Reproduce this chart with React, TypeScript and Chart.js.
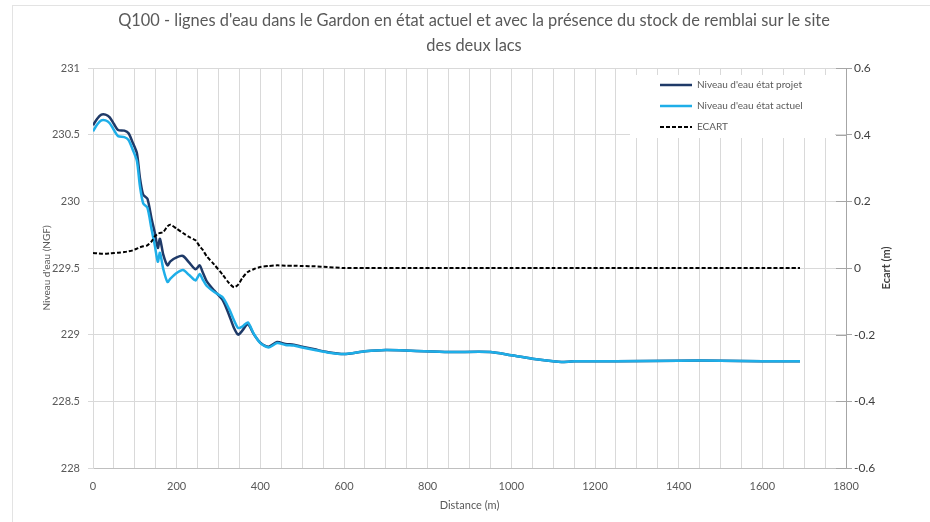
import React, { useEffect, useRef } from "react";
import { Chart, registerables } from "chart.js";

Chart.register(...registerables);

const TITLE_LINES = [
  "Q100 - lignes d'eau dans le Gardon en état actuel et avec la présence du stock de remblai sur le site",
  "des deux lacs",
];
const X_TITLE = "Distance (m)";
const Y_TITLE = "Niveau d'eau (NGF)";
const Y1_TITLE = "Ecart (m)";
const LEGEND_LABELS = ["Niveau d'eau état projet", "Niveau d'eau état actuel", "ECART"];

const distance = [
  0, 10, 20, 30, 40, 50, 60, 75, 85, 95, 105, 112, 120, 130, 140, 148, 155, 160, 168, 178,
  185, 200, 215, 230, 245, 255, 262, 272, 290, 310, 325, 337, 347, 357, 370, 385, 400, 420,
  440, 460, 480, 500, 530, 560, 600, 650, 700, 760, 850, 950, 1000, 1050, 1100, 1120, 1150,
  1250, 1400, 1500, 1600, 1690,
];

const niveauProjet = [
  230.57, 230.62, 230.65, 230.65, 230.63, 230.58, 230.535, 230.53, 230.51, 230.44, 230.36,
  230.18, 230.05, 230.02, 229.87, 229.76, 229.65, 229.72, 229.6, 229.52, 229.55, 229.58,
  229.59, 229.54, 229.49, 229.52, 229.47, 229.4, 229.33, 229.26, 229.15, 229.05, 229.0,
  229.03, 229.08, 229.0, 228.94, 228.91, 228.945, 228.93, 228.925, 228.91, 228.89, 228.87,
  228.855, 228.875, 228.885, 228.88, 228.87, 228.87, 228.845, 228.82, 228.8, 228.795, 228.8,
  228.8, 228.805, 228.805, 228.8, 228.8,
];

const niveauActuel = [
  230.525, 230.576, 230.607, 230.607, 230.586, 230.535, 230.489, 230.482, 230.46, 230.387,
  230.302, 230.118, 229.985, 229.952, 229.79, 229.665, 229.547, 229.615, 229.492, 229.395,
  229.42, 229.462, 229.485, 229.447, 229.407, 229.455, 229.415, 229.365, 229.32, 229.28,
  229.195, 229.108, 229.05, 229.06, 229.092, 229.003, 228.937, 228.904, 228.937, 228.923,
  228.918, 228.904, 228.885, 228.867, 228.855, 228.875, 228.885, 228.88, 228.87, 228.87,
  228.845, 228.82, 228.8, 228.795, 228.8, 228.8, 228.805, 228.805, 228.8, 228.8,
];

const ecart = [
  0.045, 0.044, 0.043, 0.043, 0.044, 0.045, 0.046, 0.048, 0.05, 0.053, 0.058, 0.062, 0.065,
  0.068, 0.08, 0.095, 0.103, 0.105, 0.108, 0.125, 0.13, 0.118, 0.105, 0.093, 0.083, 0.065,
  0.055, 0.035, 0.01, -0.02, -0.045, -0.058, -0.05, -0.03, -0.012, -0.003, 0.003, 0.006,
  0.008, 0.007, 0.007, 0.006, 0.005, 0.003, 0.0, 0.0, 0.0, 0.0, 0.0, 0.0, 0.0, 0.0, 0.0,
  0.0, 0.0, 0.0, 0.0, 0.0, 0.0, 0.0,
];

const X_MIN = 0;
const X_MAX = 1800;
const X_GRID_STEP = 50;
const X_LABEL_STEP = 200;
const Y_MIN = 228;
const Y_MAX = 231;
const Y_STEP = 0.5;
const Y1_MIN = -0.6;
const Y1_MAX = 0.6;
const Y1_STEP = 0.2;

const COLOR_PROJET = "#1f3a68";
const COLOR_ACTUEL = "#1eaee8";
const COLOR_ECART = "#000000";
const FONT = "Lato, 'Open Sans', sans-serif";

const decorPlugin = {
  id: "decor",
  beforeDraw(chart: any) {
    const { ctx, width, height } = chart;
    ctx.save();
    ctx.fillStyle = "#ffffff";
    ctx.fillRect(0, 0, width, height);
    ctx.strokeStyle = "#e3e3e3";
    ctx.lineWidth = 1;
    ctx.strokeRect(12.5, 5.5, width, height);
    ctx.restore();
  },
  afterDraw(chart: any) {
    const { ctx, chartArea } = chart;
    const { left, right, top, bottom } = chartArea;
    ctx.save();
    // Title
    ctx.fillStyle = "#595959";
    ctx.font = `16.4px ${FONT}`;
    ctx.textAlign = "center";
    ctx.textBaseline = "middle";
    ctx.fillText(TITLE_LINES[0], 474, 21);
    ctx.fillText(TITLE_LINES[1], 474, 46);

    // X title
    ctx.font = `11px ${FONT}`;
    ctx.fillText(X_TITLE, (left + right) / 2, 505);

    // Left y title
    ctx.save();
    ctx.translate(47, (top + bottom) / 2);
    ctx.rotate(-Math.PI / 2);
    ctx.font = `10px ${FONT}`;
    ctx.fillText(Y_TITLE, 0, 0);
    ctx.restore();

    // Right y title
    ctx.save();
    ctx.translate(886, (top + bottom) / 2);
    ctx.rotate(-Math.PI / 2);
    ctx.font = `bold 11px ${FONT}`;
    ctx.fillStyle = "#404040";
    ctx.fillText(Y1_TITLE, 0, 0);
    ctx.restore();

    // inward ticks on right axis
    const y1 = chart.scales.y1;
    ctx.strokeStyle = "#a6a6a6";
    ctx.lineWidth = 1;
    for (let v = Y1_MIN; v <= Y1_MAX + 1e-9; v += Y1_STEP) {
      const py = Math.round(y1.getPixelForValue(v)) + 0.5;
      ctx.beginPath();
      ctx.moveTo(right - 10, py);
      ctx.lineTo(right, py);
      ctx.stroke();
    }

    // Legend box
    const bx = 630, by = 75, bw = 205, bh = 63;
    ctx.fillStyle = "#ffffff";
    ctx.fillRect(bx, by, bw, bh);
    const rows = [85, 106, 127];
    const colors = [COLOR_PROJET, COLOR_ACTUEL, COLOR_ECART];
    ctx.font = `10px ${FONT}`;
    ctx.textAlign = "left";
    for (let i = 0; i < 3; i++) {
      ctx.beginPath();
      ctx.strokeStyle = colors[i];
      ctx.lineWidth = i === 2 ? 2 : 2.5;
      ctx.setLineDash(i === 2 ? [4, 2] : []);
      ctx.moveTo(660, rows[i]);
      ctx.lineTo(692, rows[i]);
      ctx.stroke();
      ctx.setLineDash([]);
      ctx.fillStyle = "#595959";
      ctx.fillText(LEGEND_LABELS[i], 697, rows[i]);
    }
    ctx.restore();
  },
};

export default function App() {
  const canvasRef = useRef<HTMLCanvasElement | null>(null);

  useEffect(() => {
    const canvas = canvasRef.current;
    if (!canvas) return;
    const toPts = (ys: number[]) => distance.map((d, i) => ({ x: d, y: ys[i] }));
    const chart = new Chart(canvas, {
      type: "line",
      data: {
        datasets: [
          {
            label: LEGEND_LABELS[0],
            data: toPts(niveauProjet),
            borderColor: COLOR_PROJET,
            borderWidth: 2.5,
            pointRadius: 0,
            tension: 0.25,
            yAxisID: "y",
            order: 3,
          },
          {
            label: LEGEND_LABELS[1],
            data: toPts(niveauActuel),
            borderColor: COLOR_ACTUEL,
            borderWidth: 2.5,
            pointRadius: 0,
            tension: 0.25,
            yAxisID: "y",
            order: 2,
          },
          {
            label: LEGEND_LABELS[2],
            data: toPts(ecart),
            borderColor: COLOR_ECART,
            borderWidth: 2,
            borderDash: [4, 2],
            pointRadius: 0,
            tension: 0.25,
            yAxisID: "y1",
            order: 1,
          },
        ],
      },
      options: {
        animation: false,
        responsive: false,
        devicePixelRatio: 1,
        layout: { padding: { top: 68, left: 0, right: 0, bottom: 0 } },
        plugins: {
          legend: { display: false },
          title: { display: false },
          tooltip: { enabled: false },
        },
        scales: {
          x: {
            type: "linear",
            min: X_MIN,
            max: X_MAX,
            afterFit: (s: any) => {
              s.height = 54;
            },
            ticks: {
              stepSize: X_GRID_STEP,
              autoSkip: false,
              maxRotation: 0,
              padding: 12,
              color: "#595959",
              font: { family: FONT, size: 11 },
              callback: (v: any) => (Number(v) % X_LABEL_STEP === 0 ? String(v) : ""),
            },
            grid: { color: "#d9d9d9", drawTicks: false },
            border: { color: "#bfbfbf" },
          },
          y: {
            type: "linear",
            position: "left",
            min: Y_MIN,
            max: Y_MAX,
            afterFit: (s: any) => {
              s.width = 93;
            },
            ticks: {
              stepSize: Y_STEP,
              padding: 8,
              color: "#595959",
              font: { family: FONT, size: 11 },
              callback: (v: any) => String(Math.round(Number(v) * 10) / 10),
            },
            grid: { color: "#d9d9d9", tickLength: 5 },
            border: { color: "#d9d9d9" },
          },
          y1: {
            type: "linear",
            position: "right",
            min: Y1_MIN,
            max: Y1_MAX,
            afterFit: (s: any) => {
              s.width = 84;
            },
            ticks: {
              stepSize: Y1_STEP,
              padding: 2,
              color: "#404040",
              font: { family: FONT, size: 12 },
              callback: (v: any) => {
                const n = Number(v);
                return Math.abs(n) < 1e-9 ? "0" : n.toFixed(1);
              },
            },
            grid: { drawOnChartArea: false, color: "#a6a6a6", tickLength: 6 },
            border: { color: "#a6a6a6" },
          },
        },
      },
      plugins: [decorPlugin],
    });
    return () => chart.destroy();
  }, []);

  return (
    <div style={{ position: "absolute", left: 0, top: 0, width: 930, height: 522, background: "#fff" }}>
      <canvas ref={canvasRef} width={930} height={522} style={{ width: 930, height: 522, display: "block" }} />
    </div>
  );
}
